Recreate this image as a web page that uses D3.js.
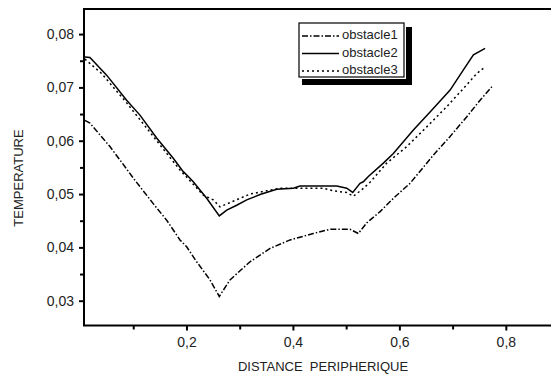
<!DOCTYPE html>
<html>
<head>
<meta charset="utf-8">
<script src="https://cdn.jsdelivr.net/npm/d3@7"></script>
<style>
  body { margin: 0; background: #fff; }
  text { font-family: "Liberation Sans", Arial, sans-serif; fill: #222; }
</style>
</head>
<body>
<div id="canvas"></div>
<script>
"use strict"
let svgWidth = 551;
let svgHeight = 378;

// plot frame edges (right edge runs off the picture)
let plotLeft = 84;
let plotRight = 559;
let plotTop = 9;
let plotBottom = 325.5;

// series values: [distance, temperature]
let obstacle1 = [
    [0.0092, 0.0638], [0.0186, 0.0633], [0.0374, 0.0611], [0.0562, 0.0589],
    [0.075, 0.0564], [0.1, 0.0530], [0.1376, 0.0482], [0.1628, 0.0451],
    [0.1878, 0.0414], [0.2004, 0.0401], [0.2192, 0.0373], [0.2442, 0.0339],
    [0.2617, 0.0308], [0.2818, 0.0339], [0.3194, 0.0373], [0.357, 0.0398],
    [0.3946, 0.0414], [0.4383, 0.0426], [0.4697, 0.0434], [0.5073, 0.0434],
    [0.5229, 0.0426], [0.5387, 0.0446], [0.5637, 0.0467], [0.5919, 0.0495],
    [0.62, 0.0520], [0.6639, 0.0573], [0.6953, 0.0608], [0.7267, 0.0645],
    [0.7517, 0.0676], [0.7737, 0.0701]
];
let obstacle2 = [
    [0.0092, 0.0757], [0.0186, 0.0756], [0.05, 0.0723], [0.0876, 0.0676],
    [0.1126, 0.0648], [0.144, 0.0605], [0.1752, 0.0567], [0.194, 0.0542],
    [0.2034, 0.0533], [0.2128, 0.0523], [0.238, 0.0492], [0.2617, 0.0459],
    [0.2756, 0.0470], [0.2944, 0.0479], [0.3132, 0.0489], [0.3382, 0.0499],
    [0.3696, 0.0509], [0.4008, 0.0511], [0.4133, 0.0515], [0.4823, 0.0515],
    [0.5011, 0.0511], [0.5124, 0.0503], [0.5261, 0.0520], [0.5323, 0.0523],
    [0.5417, 0.0533], [0.5699, 0.0558], [0.5887, 0.0576], [0.6263, 0.0620],
    [0.6577, 0.0654], [0.6953, 0.0695], [0.7203, 0.0733], [0.7391, 0.0761],
    [0.7611, 0.0773]
];
let obstacle3 = [
    [0.0092, 0.0753], [0.0406, 0.0726], [0.0876, 0.0671], [0.144, 0.0600],
    [0.1878, 0.0545], [0.2066, 0.0525], [0.2316, 0.0498], [0.2504, 0.0489],
    [0.263, 0.0476], [0.2818, 0.0484], [0.3194, 0.0500], [0.3508, 0.0506],
    [0.3758, 0.0511], [0.4133, 0.0511], [0.4571, 0.0511], [0.476, 0.0506],
    [0.5011, 0.0503], [0.5135, 0.0496], [0.5293, 0.0508], [0.5449, 0.0522],
    [0.5763, 0.0558], [0.6139, 0.0589], [0.6515, 0.0626], [0.6891, 0.0664],
    [0.7203, 0.0698], [0.7455, 0.0726], [0.7579, 0.0736]
];

let seriesNames = ["obstacle1", "obstacle2", "obstacle3"];
let seriesDashes = ["6,2,1.5,2", null, "2,3"];

let xMajorTicks = [0.2, 0.4, 0.6, 0.8];
let xMinorTicks = [0.1, 0.3, 0.5, 0.7];
let yMajorTicks = [0.03, 0.04, 0.05, 0.06, 0.07, 0.08];
let yMinorTicks = [0.035, 0.045, 0.055, 0.065, 0.075];

let svg = d3.select("#canvas")
    .append("svg")
    .attr("width", svgWidth)
    .attr("height", svgHeight);

let xScale = d3.scaleLinear()
    .domain([0.0075, 0.8999])
    .range([plotLeft, plotRight]);
let yScale = d3.scaleLinear()
    .domain([0.02535, 0.0847])
    .range([plotBottom, plotTop]);

// comma as decimal mark
let frLocale = d3.formatLocale({decimal: ",", thousands: ".", grouping: [3], currency: ["", " €"]});

// minor ticks first, then major ticks with labels
svg.append("g")
    .attr("transform", "translate(0," + plotBottom + ")")
    .call(d3.axisBottom(xScale).tickValues(xMinorTicks).tickSize(4).tickFormat(""))
    .call(g => g.select(".domain").remove())
    .call(g => g.selectAll("line").attr("stroke-width", 2));
svg.append("g")
    .attr("transform", "translate(0," + plotBottom + ")")
    .call(d3.axisBottom(xScale).tickValues(xMajorTicks).tickSize(5).tickPadding(7).tickFormat(frLocale.format(".1f")))
    .call(g => g.select(".domain").remove())
    .call(g => g.selectAll("line").attr("stroke-width", 2))
    .call(g => g.selectAll("text").attr("font-size", 14).attr("font-family", "Liberation Sans, Arial, sans-serif").attr("fill", "#222"));

svg.append("g")
    .attr("transform", "translate(" + plotLeft + ",0)")
    .call(d3.axisLeft(yScale).tickValues(yMinorTicks).tickSize(4).tickFormat(""))
    .call(g => g.select(".domain").remove())
    .call(g => g.selectAll("line").attr("stroke-width", 2));
svg.append("g")
    .attr("transform", "translate(" + plotLeft + ",0)")
    .call(d3.axisLeft(yScale).tickValues(yMajorTicks).tickSize(5).tickPadding(5).tickFormat(frLocale.format(".2f")))
    .call(g => g.select(".domain").remove())
    .call(g => g.selectAll("line").attr("stroke-width", 2))
    .call(g => g.selectAll("text").attr("font-size", 14).attr("font-family", "Liberation Sans, Arial, sans-serif").attr("fill", "#222"));

// frame
svg.append("rect")
    .attr("x", plotLeft)
    .attr("y", plotTop)
    .attr("width", plotRight - plotLeft)
    .attr("height", plotBottom - plotTop)
    .attr("fill", "none")
    .attr("stroke", "black")
    .attr("stroke-width", 2);

// curves
let line = d3.line()
    .x(function(d) { return xScale(d[0]); })
    .y(function(d) { return yScale(d[1]); });

let allSeries = [obstacle1, obstacle2, obstacle3];
for (let i = 0; i < allSeries.length; i++) {
    svg.append("path")
        .datum(allSeries[i])
        .attr("d", line)
        .attr("fill", "none")
        .attr("stroke", "black")
        .attr("stroke-width", 1.5)
        .attr("stroke-dasharray", seriesDashes[i]);
}

// axis titles
svg.append("text")
    .attr("x", 323)
    .attr("y", 368)
    .attr("text-anchor", "middle")
    .attr("dominant-baseline", "middle")
    .attr("font-size", 13)
    .attr("xml:space", "preserve")
    .style("white-space", "pre")
    .text("DISTANCE  PERIPHERIQUE");

svg.append("text")
    .attr("transform", "rotate(-90)")
    .attr("x", -178)
    .attr("y", 20)
    .attr("text-anchor", "middle")
    .attr("dominant-baseline", "middle")
    .attr("font-size", 13)
    .text("TEMPERATURE");

// legend with drop shadow
let keyX = 299;
let keyY = 23;
let keyW = 105;
let keyH = 54;

svg.append("rect")
    .attr("x", keyX + 3)
    .attr("y", keyY + 4)
    .attr("width", keyW + 5)
    .attr("height", keyH + 4)
    .attr("fill", "black");
svg.append("rect")
    .attr("x", keyX)
    .attr("y", keyY)
    .attr("width", keyW)
    .attr("height", keyH)
    .attr("fill", "white")
    .attr("stroke", "white")
    .attr("stroke-width", 4);
svg.append("rect")
    .attr("x", keyX)
    .attr("y", keyY)
    .attr("width", keyW)
    .attr("height", keyH)
    .attr("fill", "white")
    .attr("stroke", "black")
    .attr("stroke-width", 1.2);

for (let i = 0; i < seriesNames.length; i++) {
    let yPosition = keyY + 13 + i * 17.5;
    svg.append("line")
        .attr("x1", keyX + 3)
        .attr("x2", keyX + 40)
        .attr("y1", yPosition)
        .attr("y2", yPosition)
        .attr("stroke", "black")
        .attr("stroke-width", 1.5)
        .attr("stroke-dasharray", seriesDashes[i]);
    svg.append("text")
        .attr("x", keyX + 43)
        .attr("y", yPosition)
        .attr("dominant-baseline", "middle")
        .attr("font-size", 13)
        .text(seriesNames[i]);
}
</script>
</body>
</html>
